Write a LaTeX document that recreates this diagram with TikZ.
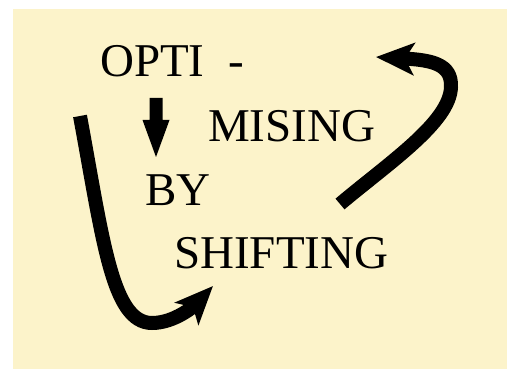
\documentclass[tikz,border=0pt]{standalone}
\usepackage{fontspec}
\setmainfont{Liberation Serif}
\usetikzlibrary{arrows.meta}
\definecolor{cream}{RGB}{252,243,202}
\tikzset{
  word/.style={anchor=base west, inner sep=0pt, font=\fontsize{47}{50}\selectfont},
  bigarrow/.style={line width=14pt, -{Stealth[length=38pt,width=32pt,inset=9pt]}},
}
\begin{document}
\begin{tikzpicture}[x=1pt,y=-1pt]
\useasboundingbox (0,0) rectangle (507,369);
\fill[cream] (13,9) rectangle (507,369);
% words
\node[word] (opti) at (100,77) {OPTI\hspace{24pt}-};
\node[word] (mising) at (208,142) {MISING};
\node[word] (by) at (145,205) {BY};
\node[word] (shifting) at (174,269) {SHIFTING};
% small down arrow
\fill (149.5,98) -- (162.5,98) -- (162.5,120) -- (169.5,120) -- (156,157) -- (142.5,120) -- (149.5,120) -- cycle;
% left J arrow
\coordinate (ls) at (80,116);
\coordinate (lb) at (152,323);
\coordinate (le) at (213,286);
\draw[bigarrow] (ls) .. controls (103,240) and (112,323) .. (lb) .. controls (175,323) and (195,305) .. (le);
% right arrow
\coordinate (rs) at (340,204);
\coordinate (rm) at (451,87);
\coordinate (re) at (376,57);
\draw[bigarrow] (rs) .. controls (390,162) and (450,122) .. (rm) .. controls (452,64) and (432,60) .. (re);
\end{tikzpicture}
\end{document}
